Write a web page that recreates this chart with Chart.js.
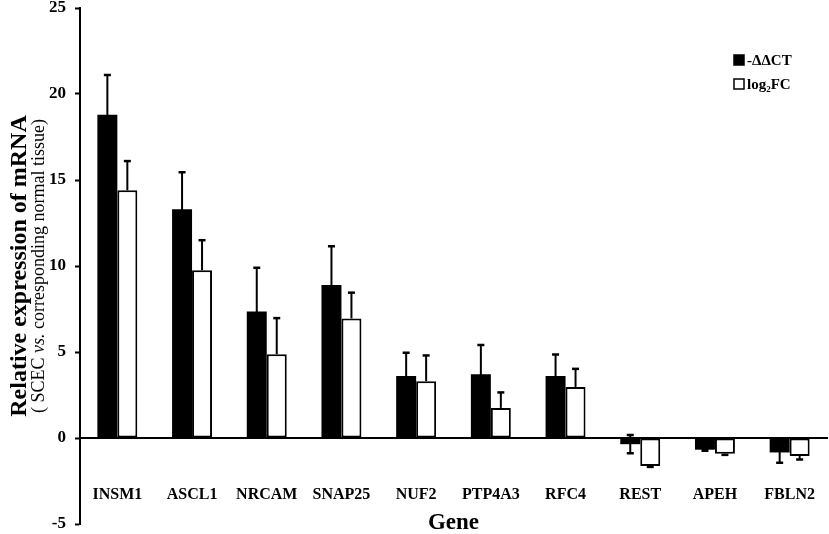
<!DOCTYPE html>
<html>
<head>
<meta charset="utf-8">
<script src="https://cdn.jsdelivr.net/npm/chart.js@4.4.1/dist/chart.umd.min.js"></script>
<style>
html,body{margin:0;padding:0;background:#fff;overflow:hidden;}
#wrap{width:829px;height:534px;position:relative;}
</style>
</head>
<body>
<div id="wrap"><canvas id="c"></canvas></div>
<script>
const genes = ['INSM1','ASCL1','NRCAM','SNAP25','NUF2','PTP4A3','RFC4','REST','APEH','FBLN2'];
const ddct = [18.8, 13.3, 7.35, 8.9, 3.6, 3.7, 3.6, -0.36, -0.68, -0.84];
const ddctErr = [2.3, 2.15, 2.55, 2.25, 1.35, 1.7, 1.25, 0.53, 0.06, 0.6];
const log2fc = [14.4, 9.75, 4.87, 6.95, 3.3, 1.75, 2.97, -1.63, -0.92, -1.05];
const log2fcErr = [1.7, 1.75, 2.1, 1.5, 1.5, 0.9, 1.05, 0.05, 0.06, 0.2];
const seriesNames = ['-\u0394\u0394CT', 'log\u2082FC'];
const yTitle = 'Relative expression of mRNA';
const ySubtitle = ['( SCEC ', 'vs.', ' corresponding normal tissue)'];
const xTitle = 'Gene';

const SERIF = "'Liberation Serif','Times New Roman',serif";

const errorBars = {
  id: 'errorBars',
  afterDatasetsDraw(chart) {
    const ctx = chart.ctx;
    const ys = chart.scales.y;
    chart.data.datasets.forEach((ds, i) => {
      const meta = chart.getDatasetMeta(i);
      meta.data.forEach((el, j) => {
        const v = ds.data[j], e = ds.errors[j];
        const s = v >= 0 ? 1 : -1;
        const yEnd = ys.getPixelForValue(v + s * e);
        const yStart = ds.errBoth ? ys.getPixelForValue(v - s * e) : el.y;
        ctx.save();
        ctx.strokeStyle = '#000';
        ctx.lineWidth = 2;
        ctx.beginPath();
        ctx.moveTo(el.x, yStart);
        ctx.lineTo(el.x, yEnd);
        ctx.stroke();
        ctx.lineWidth = 2.5;
        ctx.beginPath();
        ctx.moveTo(el.x - 3.5, yEnd);
        ctx.lineTo(el.x + 3.5, yEnd);
        if (ds.errBoth) {
          ctx.moveTo(el.x - 3.5, yStart);
          ctx.lineTo(el.x + 3.5, yStart);
        }
        ctx.stroke();
        ctx.restore();
      });
    });
  }
};

const texts = {
  id: 'texts',
  afterDraw(chart) {
    const ctx = chart.ctx;
    const ca = chart.chartArea;
    const cy = (ca.top + ca.bottom) / 2;
    ctx.save();
    ctx.fillStyle = '#000';
    // y title
    ctx.save();
    ctx.translate(26, cy);
    ctx.rotate(-Math.PI / 2);
    ctx.font = 'bold 24px ' + SERIF;
    ctx.textAlign = 'center';
    ctx.textBaseline = 'alphabetic';
    ctx.fillText(yTitle, 0, 0);
    ctx.restore();
    // y subtitle (mixed italic)
    ctx.save();
    ctx.translate(44, cy);
    ctx.rotate(-Math.PI / 2);
    ctx.textBaseline = 'alphabetic';
    ctx.textAlign = 'left';
    const fonts = ['18px ' + SERIF, 'italic 18px ' + SERIF, '18px ' + SERIF];
    let total = 0;
    const widths = ySubtitle.map((t, k) => { ctx.font = fonts[k]; const w = ctx.measureText(t).width; total += w; return w; });
    let x = -total / 2;
    ySubtitle.forEach((t, k) => { ctx.font = fonts[k]; ctx.fillText(t, x, 0); x += widths[k]; });
    ctx.restore();
    // x title
    ctx.font = 'bold 23px ' + SERIF;
    ctx.textAlign = 'center';
    ctx.textBaseline = 'middle';
    ctx.fillText(xTitle, (ca.left + ca.right) / 2, 523);
    // legend
    ctx.font = 'bold 15px ' + SERIF;
    ctx.textAlign = 'left';
    const rows = [60, 84];
    chart.data.datasets.forEach((ds, i) => {
      const y = rows[i];
      ctx.fillStyle = ds.backgroundColor;
      ctx.fillRect(734, y - 5, 10, 10);
      ctx.strokeStyle = '#000';
      ctx.lineWidth = 1.5;
      ctx.strokeRect(734, y - 5, 10, 10);
      ctx.fillStyle = '#000';
      ctx.fillText(ds.label, 747, y + 1);
    });
    ctx.restore();
  }
};

new Chart(document.getElementById('c'), {
  type: 'bar',
  data: {
    labels: genes,
    datasets: [
      { label: seriesNames[0], data: ddct, errors: ddctErr, errBoth: true,
        backgroundColor: '#000', borderColor: '#000', borderWidth: 0 },
      { label: seriesNames[1], data: log2fc, errors: log2fcErr, errBoth: false,
        backgroundColor: '#fff', borderColor: '#000', borderWidth: 2, borderSkipped: false }
    ]
  },
  options: {
    responsive: true,
    maintainAspectRatio: false,
    animation: false,
    devicePixelRatio: 1,
    layout: { padding: { left: 40, top: 8, right: 2, bottom: 10 } },
    datasets: { bar: { categoryPercentage: 0.535, barPercentage: 1.0 } },
    plugins: { legend: { display: false }, tooltip: { enabled: false } },
    scales: {
      x: {
        position: { y: 0 },
        offset: true,
        grid: { display: false, drawTicks: false },
        border: { display: true, color: '#000', width: 2 },
        ticks: { color: '#000', padding: 47, font: { family: SERIF, size: 16, weight: 'bold' } },
        afterFit: (s) => { s.paddingLeft = 0; s.paddingRight = 0; }
      },
      y: {
        min: -5, max: 25,
        ticks: { stepSize: 5, color: '#000', padding: 9, font: { family: SERIF, size: 17, weight: 'bold' } },
        grid: { drawOnChartArea: false, drawTicks: true, tickLength: 5, color: '#000', tickWidth: 2 },
        border: { display: true, color: '#000', width: 2 },
        afterFit: (s) => { s.paddingTop = 0; s.paddingBottom = 0; }
      }
    }
  },
  plugins: [errorBars, texts]
});
</script>
</body>
</html>
